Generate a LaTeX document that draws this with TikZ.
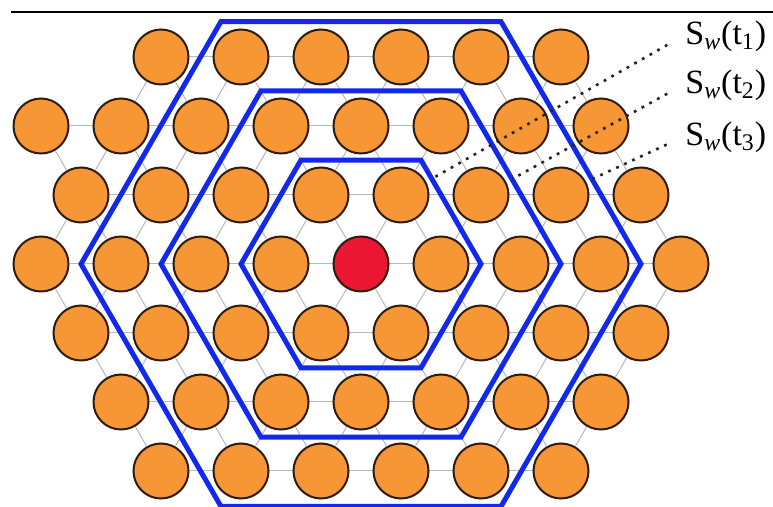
\documentclass[tikz,border=0pt]{standalone}
\usepackage{fontspec}
\setmainfont{Liberation Serif}
\usetikzlibrary{backgrounds}
\definecolor{siteorange}{RGB}{247,150,52}
\definecolor{hubred}{RGB}{235,22,50}
\definecolor{ringblue}{RGB}{18,40,235}
\definecolor{siteedge}{RGB}{45,28,15}
\definecolor{bondgray}{RGB}{185,185,185}

\begin{document}
\begin{tikzpicture}[
    x=0.5pt, y=-0.5pt,
    site/.style={circle, draw=siteedge, line width=1pt, fill=siteorange, minimum size=27.5pt, inner sep=0pt},
    site 3-8/.style={fill=hubred},
    bond/.style={draw=bondgray, line width=0.5pt},
    ring/.style={draw=ringblue, line width=2.5pt},
    leader/.style={line width=1.3pt, dash pattern=on 1.4pt off 3pt, draw=black!85},
    tag/.style={anchor=west, inner sep=1pt, font=\rmfamily\fontsize{17}{20}\selectfont}
]
\useasboundingbox (0,0) rectangle (773,507);
\draw[line width=0.7pt] (11,12) -- (773,12);
% sites, row by row
\foreach \i/\a/\b in {0/3/13, 1/0/14, 2/1/15, 3/0/16, 4/1/15, 5/2/14, 6/3/13}{
  \pgfmathtruncatemacro\c{\a+2}
  \foreach \j in {\a,\c,...,\b}
    \node[site, site \i-\j/.try] (c\i-\j) at (41+40*\j, 57+69*\i) {};
}
% bonds behind the sites
\begin{scope}[on background layer]
  \foreach \i/\a/\b in {0/3/13, 1/0/14, 2/1/15, 3/0/16, 4/1/15, 5/2/14, 6/3/13}
    \draw[bond] (c\i-\a) -- (c\i-\b);
  \foreach \i/\la/\lb/\ra/\rb in {0/3/13/3/13, 1/2/14/0/14, 2/1/15/1/15, 3/2/16/0/14, 4/3/15/1/13, 5/4/14/2/12}{
    \pgfmathtruncatemacro\k{\i+1}
    \pgfmathtruncatemacro\lc{\la+2}
    \pgfmathtruncatemacro\rc{\ra+2}
    \foreach \j in {\la,\lc,...,\lb}{\pgfmathtruncatemacro\m{\j-1}\draw[bond] (c\i-\j) -- (c\k-\m);}
    \foreach \j in {\ra,\rc,...,\rb}{\pgfmathtruncatemacro\m{\j+1}\draw[bond] (c\i-\j) -- (c\k-\m);}
  }
\end{scope}
% windows S_w(t)
\foreach \r/\p/\k in {120/0.82/1, 200/0.49/2, 280/0.35/3}
  \draw[ring, shift={(c3-8)}] (0:\r) -- coordinate[pos=\p] (e\k) (-60:\r) -- (-120:\r) -- (180:\r) -- (120:\r) -- (60:\r) -- cycle;
\node[tag] (t1) at (683,36) {S\textsubscript{\itshape w}(t\textsubscript{1})};
\node[tag] (t2) at (683,85) {S\textsubscript{\itshape w}(t\textsubscript{2})};
\node[tag] (t3) at (683,137) {S\textsubscript{\itshape w}(t\textsubscript{3})};
\foreach \k in {1,2,3}
  \draw[leader, shorten <=9pt] (t\k.west) -- (e\k);
\end{tikzpicture}
\end{document}
